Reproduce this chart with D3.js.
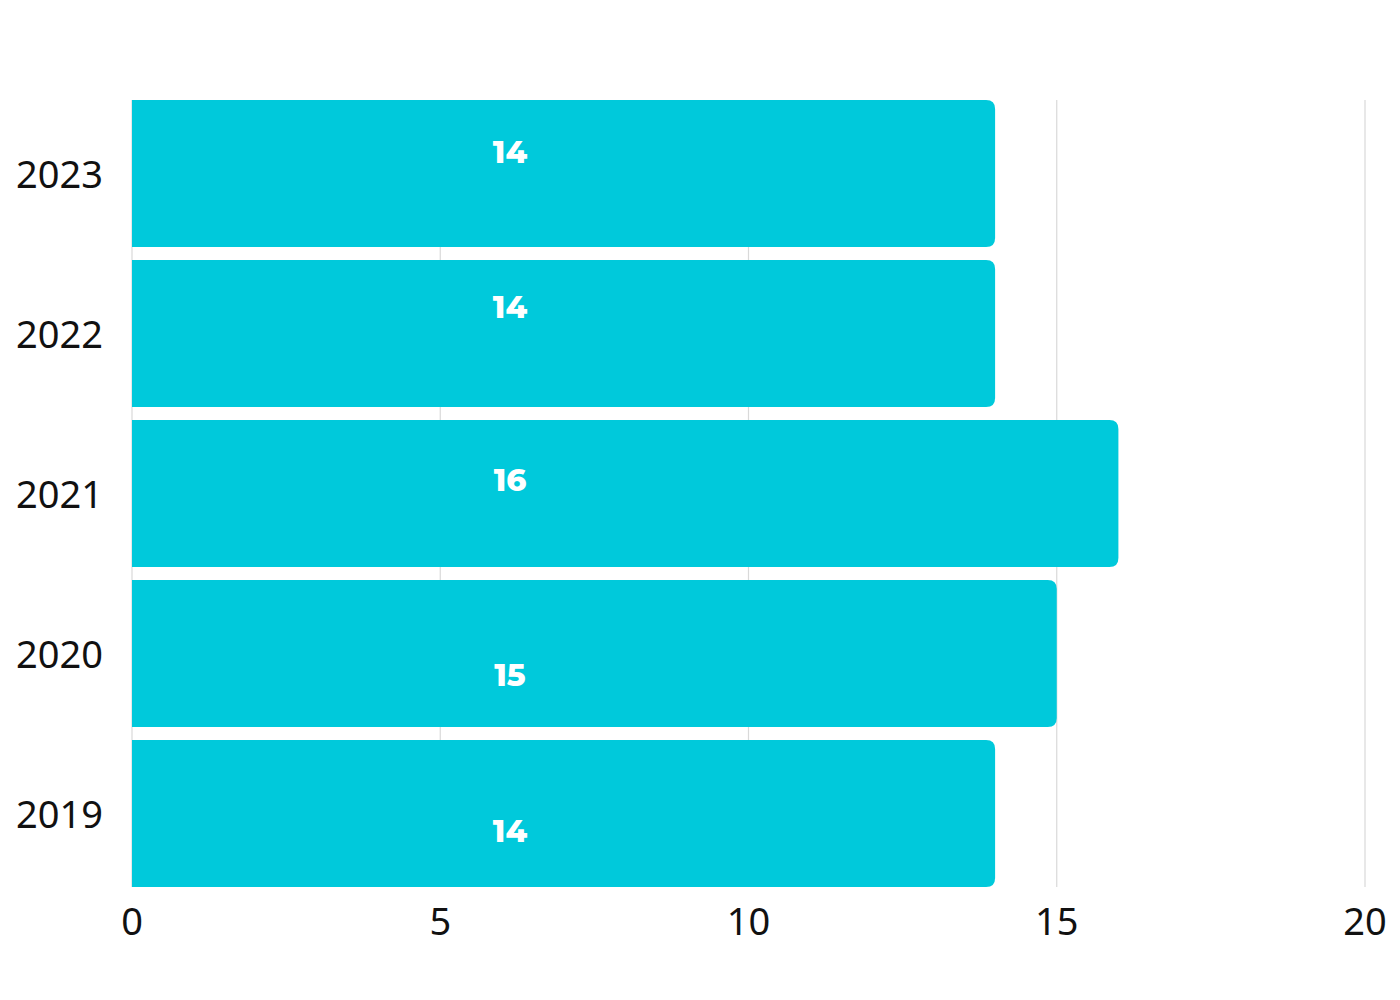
<!DOCTYPE html>
<html><head><meta charset="utf-8">
<script src="https://cdn.jsdelivr.net/npm/d3@7"></script>
<style>body{margin:0;background:#fff}</style>
</head><body>
<svg id="c" width="1400" height="1000"></svg>
<script>
const categories = ["2023","2022","2021","2020","2019"];
const values = [14,14,16,15,14];
const xTicks = [0,5,10,15,20];
// vertical label offset inside each bar (fraction of bar height)
const labelPos = [0.355,0.32,0.41,0.65,0.62];

const svg = d3.select("#c");
const x = d3.scaleLinear().domain([0,20]).range([132,1365]);
const y = d3.scaleBand().domain(categories).range([100,887]).paddingInner(0.08125).paddingOuter(0);
const bottom = y(categories[categories.length-1]) + y.bandwidth();

svg.append("g").selectAll("line").data(xTicks).join("line")
  .attr("x1",d=>x(d)).attr("x2",d=>x(d)).attr("y1",100).attr("y2",bottom)
  .attr("stroke","#d9d9d9").attr("stroke-width",1.2);

const r = 9;
svg.append("g").selectAll("path").data(values).join("path")
  .attr("fill","#00c9db")
  .attr("d",(d,i)=>{
    const x0=x(0), x1=x(d), y0=y(categories[i]), h=y.bandwidth();
    return `M${x0},${y0}H${x1-r}Q${x1},${y0} ${x1},${y0+r}V${y0+h-r}Q${x1},${y0+h} ${x1-r},${y0+h}H${x0}Z`;
  });

svg.append("g").selectAll("text").data(values).join("text")
  .attr("x",510).attr("y",(d,i)=>y(categories[i])+y.bandwidth()*labelPos[i])
  .attr("dy","0.35em").attr("text-anchor","middle")
  .attr("fill","#fff").attr("font-family","Montserrat, 'Open Sans', sans-serif")
  .attr("font-weight",800).attr("font-size",31).text(d=>d);

svg.append("g").selectAll("text").data(categories).join("text")
  .attr("x",103).attr("y",d=>y(d)+y.bandwidth()/2+1).attr("dy","0.36em")
  .attr("text-anchor","end").attr("font-family","'Noto Sans', sans-serif")
  .attr("font-size",38).attr("fill","#111").text(d=>d);

svg.append("g").selectAll("text").data(xTicks).join("text")
  .attr("x",d=>x(d)).attr("y",921).attr("dy","0.36em")
  .attr("text-anchor","middle").attr("font-family","'Noto Sans', sans-serif")
  .attr("font-size",38).attr("fill","#111").text(d=>d);
</script>
</body></html>
